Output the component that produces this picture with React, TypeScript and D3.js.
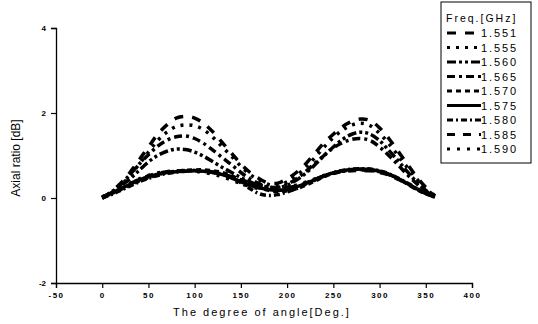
import React, { useEffect, useRef } from 'react';
import * as d3 from 'd3';

// angles 0..360 every 10 degrees
const angles = d3.range(0, 361, 10);

const freqLabels = ['1.551', '1.555', '1.560', '1.565', '1.570', '1.575', '1.580', '1.585', '1.590'];

const ar1551 = [0.0, 0.15, 0.35, 0.6, 0.9, 1.2, 1.5, 1.72, 1.88, 1.92, 1.88, 1.75, 1.55, 1.3, 1.05, 0.8, 0.6, 0.45, 0.35, 0.35, 0.45, 0.6, 0.8, 1.05, 1.3, 1.5, 1.68, 1.8, 1.86, 1.82, 1.65, 1.4, 1.1, 0.8, 0.5, 0.25, 0.05];
const ar1555 = [0.02, 0.12, 0.3, 0.52, 0.8, 1.08, 1.35, 1.55, 1.68, 1.72, 1.7, 1.6, 1.42, 1.2, 0.98, 0.75, 0.55, 0.42, 0.32, 0.3, 0.38, 0.52, 0.72, 0.95, 1.2, 1.42, 1.6, 1.72, 1.76, 1.7, 1.52, 1.28, 1.0, 0.72, 0.45, 0.22, 0.05];
const ar1560 = [0.02, 0.12, 0.28, 0.45, 0.65, 0.85, 1.0, 1.1, 1.15, 1.14, 1.08, 0.98, 0.85, 0.72, 0.6, 0.48, 0.38, 0.3, 0.25, 0.24, 0.3, 0.42, 0.58, 0.78, 1.0, 1.2, 1.38, 1.5, 1.55, 1.5, 1.35, 1.12, 0.88, 0.62, 0.38, 0.18, 0.04];
const ar1565 = [0.0, 0.14, 0.32, 0.55, 0.8, 1.02, 1.22, 1.36, 1.44, 1.46, 1.4, 1.28, 1.12, 0.95, 0.78, 0.6, 0.45, 0.33, 0.26, 0.25, 0.32, 0.45, 0.62, 0.82, 1.0, 1.18, 1.3, 1.38, 1.4, 1.35, 1.2, 1.0, 0.78, 0.55, 0.34, 0.16, 0.03];
const ar1570 = [0.0, 0.1, 0.2, 0.3, 0.4, 0.48, 0.55, 0.6, 0.63, 0.65, 0.66, 0.66, 0.64, 0.6, 0.52, 0.42, 0.32, 0.24, 0.18, 0.15, 0.17, 0.22, 0.3, 0.4, 0.5, 0.58, 0.63, 0.66, 0.67, 0.66, 0.62, 0.55, 0.45, 0.33, 0.2, 0.1, 0.03];
const ar1575 = [0.02, 0.12, 0.22, 0.32, 0.42, 0.5, 0.56, 0.6, 0.62, 0.63, 0.64, 0.63, 0.6, 0.55, 0.47, 0.38, 0.3, 0.24, 0.2, 0.18, 0.2, 0.26, 0.34, 0.43, 0.52, 0.59, 0.64, 0.67, 0.68, 0.67, 0.63, 0.56, 0.46, 0.34, 0.22, 0.11, 0.04];
const ar1580 = [0.0, 0.08, 0.18, 0.28, 0.38, 0.46, 0.53, 0.58, 0.61, 0.63, 0.64, 0.63, 0.61, 0.56, 0.48, 0.36, 0.22, 0.1, 0.06, 0.08, 0.14, 0.22, 0.32, 0.42, 0.52, 0.6, 0.65, 0.68, 0.69, 0.68, 0.64, 0.57, 0.47, 0.35, 0.22, 0.1, 0.02];
const ar1585 = [0.01, 0.1, 0.21, 0.33, 0.44, 0.52, 0.58, 0.62, 0.64, 0.65, 0.65, 0.63, 0.6, 0.56, 0.5, 0.43, 0.36, 0.3, 0.26, 0.24, 0.25, 0.28, 0.35, 0.44, 0.52, 0.58, 0.62, 0.64, 0.65, 0.64, 0.6, 0.54, 0.44, 0.33, 0.21, 0.11, 0.03];
const ar1590 = [0.03, 0.13, 0.24, 0.35, 0.45, 0.53, 0.59, 0.62, 0.64, 0.64, 0.63, 0.6, 0.56, 0.5, 0.42, 0.34, 0.27, 0.22, 0.2, 0.21, 0.24, 0.3, 0.37, 0.45, 0.53, 0.59, 0.63, 0.65, 0.66, 0.65, 0.61, 0.55, 0.46, 0.35, 0.23, 0.12, 0.04];

const seriesValues = [ar1551, ar1555, ar1560, ar1565, ar1570, ar1575, ar1580, ar1585, ar1590];

const xTicks = [-50, 0, 50, 100, 150, 200, 250, 300, 350, 400];
const yTicks = [-2, 0, 2, 4];

const dashes = ['9,9', '3,6', '9,3,3,3,3,3', '8,4,3,4', '5,4', 'none', '6,3,2,3', '8,8', '3,7'];

const font = '"Liberation Sans", Arial, sans-serif';

const App = () => {
  const ref = useRef<SVGSVGElement | null>(null);

  useEffect(() => {
    const svg = d3.select(ref.current);
    svg.selectAll('*').remove();

    const x = d3.scaleLinear().domain([-50, 400]).range([56, 472]);
    const y = d3.scaleLinear().domain([-2, 4]).range([283, 28]);

    svg.append('rect').attr('width', 538).attr('height', 324).attr('fill', '#fff');

    // x axis
    const xa = svg.append('g').attr('transform', `translate(0,${y(-2)})`);
    xa.call(
      d3.axisBottom(x).tickValues(d3.range(-50, 401, 25)).tickSize(3).tickFormat(() => '')
    );
    xa.call(
      d3.axisBottom(x).tickValues(xTicks).tickSize(5).tickFormat((d) => String(d))
    );
    xa.selectAll('.domain').attr('stroke', '#000').attr('stroke-width', 1.3);
    xa.selectAll('line').attr('stroke', '#000').attr('stroke-width', 1.2);
    xa.selectAll('text')
      .attr('y', 9)
      .style('font-family', font)
      .style('font-size', '8px')
      .style('font-weight', 'bold')
      .style('letter-spacing', '1.5px')
      .style('fill', '#000');

    // y axis
    const ya = svg.append('g').attr('transform', `translate(${x(-50)},0)`);
    ya.call(d3.axisLeft(y).tickValues(d3.range(-2, 4.01, 1)).tickSize(3).tickFormat(() => ''));
    ya.call(d3.axisLeft(y).tickValues(yTicks).tickSize(5).tickFormat((d) => String(d)));
    ya.selectAll('.domain').attr('stroke', '#000').attr('stroke-width', 1.3);
    ya.selectAll('line').attr('stroke', '#000').attr('stroke-width', 1.2);
    ya.selectAll('text')
      .attr('x', -10)
      .style('font-family', font)
      .style('font-size', '8px')
      .style('font-weight', 'bold')
      .style('fill', '#000');

    // lines
    const line = d3
      .line<number>()
      .x((d, i) => x(angles[i]))
      .y((d) => y(d))
      .curve(d3.curveCatmullRom);

    seriesValues.forEach((vals, i) => {
      svg
        .append('path')
        .attr('d', line(vals))
        .attr('fill', 'none')
        .attr('stroke', '#000')
        .attr('stroke-width', 3.5)
        .attr('stroke-dasharray', dashes[i]);
    });

    // axis titles
    svg
      .append('text')
      .attr('x', 262)
      .attr('y', 316)
      .attr('text-anchor', 'middle')
      .style('font-family', font)
      .style('font-size', '11px')
      .style('letter-spacing', '2px')
      .text('The degree of angle[Deg.]');

    svg
      .append('text')
      .attr('transform', 'translate(20,158) rotate(-90)')
      .attr('text-anchor', 'middle')
      .style('font-family', font)
      .style('font-size', '12px')
      .text('Axial ratio [dB]');

    // legend
    const lg = svg.append('g');
    lg.append('rect')
      .attr('x', 441)
      .attr('y', 2)
      .attr('width', 90)
      .attr('height', 161)
      .attr('fill', '#fff')
      .attr('stroke', '#000')
      .attr('stroke-width', 1);
    lg.append('text')
      .attr('x', 446)
      .attr('y', 22)
      .style('font-family', font)
      .style('font-size', '10.5px')
      .style('letter-spacing', '2px')
      .text('Freq.[GHz]');

    const ly = d3.scalePoint().domain(freqLabels).range([33, 149]);
    freqLabels.forEach((lab, i) => {
      lg.append('line')
        .attr('x1', 447)
        .attr('x2', 481)
        .attr('y1', ly(lab))
        .attr('y2', ly(lab))
        .attr('stroke', '#000')
        .attr('stroke-width', 3)
        .attr('stroke-dasharray', dashes[i]);
      lg.append('text')
        .attr('x', 481)
        .attr('y', ly(lab)! + 4)
        .style('font-family', font)
        .style('font-size', '11px')
        .style('letter-spacing', '1.9px')
        .text(lab);
    });
  }, []);

  return (
    <svg
      ref={ref}
      width={538}
      height={324}
      style={{ position: 'absolute', left: 0, top: 0, display: 'block' }}
    />
  );
};

export default App;
